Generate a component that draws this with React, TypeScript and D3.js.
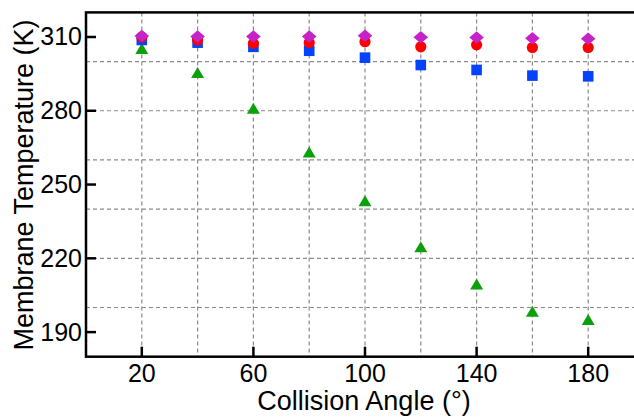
import React, { useEffect, useRef } from "react";
import * as d3 from "d3";

// collision angles (deg)
const angles = [20, 40, 60, 80, 100, 120, 140, 160, 180];
// membrane temperature (K) for each series
const greenTri = [305.1, 295.4, 280.8, 263.0, 243.2, 224.5, 209.4, 198.3, 194.9];
const blueSq = [308.8, 307.7, 306.0, 304.4, 301.6, 298.6, 296.6, 294.3, 294.0];
const redCirc = [310.0, 308.8, 307.4, 307.7, 308.1, 306.0, 306.8, 305.7, 305.7];
const pinkDia = [310.4, 310.2, 310.2, 310.2, 310.5, 309.9, 309.8, 309.5, 309.3];

const xTicks = [20, 60, 100, 140, 180];
const yTicks = [190, 220, 250, 280, 310];
const xGrid = [20, 40, 60, 80, 100, 120, 140, 160, 180];
const yGrid = [200, 220, 240, 260, 280, 300];

const W = 634, H = 418;

export default function App() {
  const ref = useRef<SVGSVGElement>(null);

  useEffect(() => {
    const svg = d3.select(ref.current);
    svg.selectAll("*").remove();

    const x = d3.scaleLinear().domain([0, 200]).range([86, 644]);
    const y = d3.scaleLinear().domain([180, 320]).range([356.7, 12.4]);
    const font = "'Liberation Sans', Arial, sans-serif";

    const g = svg.append("g");

    // dashed grid
    g.selectAll(".vgrid").data(xGrid).join("line")
      .attr("x1", d => x(d)).attr("x2", d => x(d))
      .attr("y1", y(320)).attr("y2", y(180))
      .attr("stroke", "#8a8a8a").attr("stroke-width", 1.2).attr("stroke-dasharray", "4,3");
    g.selectAll(".hgrid").data(yGrid).join("line")
      .attr("x1", x(0)).attr("x2", x(200))
      .attr("y1", d => y(d)).attr("y2", d => y(d))
      .attr("stroke", "#8a8a8a").attr("stroke-width", 1.2).attr("stroke-dasharray", "4,3");

    // frame
    g.append("rect")
      .attr("x", x(0)).attr("y", y(320))
      .attr("width", x(200) - x(0)).attr("height", y(180) - y(320))
      .attr("fill", "none").attr("stroke", "#000").attr("stroke-width", 2.5);

    // inward ticks
    g.selectAll(".xt").data(xTicks).join("line")
      .attr("x1", d => x(d)).attr("x2", d => x(d))
      .attr("y1", y(180)).attr("y2", y(180) - 10)
      .attr("stroke", "#000").attr("stroke-width", 2.5);
    g.selectAll(".yt").data(yTicks).join("line")
      .attr("x1", x(0)).attr("x2", x(0) + 10)
      .attr("y1", d => y(d)).attr("y2", d => y(d))
      .attr("stroke", "#000").attr("stroke-width", 2.5);

    // tick labels
    g.selectAll(".xl").data(xTicks).join("text")
      .attr("x", d => x(d)).attr("y", 382)
      .attr("text-anchor", "middle")
      .style("font-family", font).style("font-size", "25px")
      .text(d => d);
    g.selectAll(".yl").data(yTicks).join("text")
      .attr("x", 82).attr("y", d => y(d) + 8.5)
      .attr("text-anchor", "end")
      .style("font-family", font).style("font-size", "25px")
      .text(d => d);

    // axis titles
    g.append("text")
      .attr("x", 364).attr("y", 410)
      .attr("text-anchor", "middle")
      .style("font-family", font).style("font-size", "27px")
      .text("Collision Angle (°)");
    g.append("text")
      .attr("transform", "translate(33,185) rotate(-90)")
      .attr("text-anchor", "middle")
      .style("font-family", font).style("font-size", "27px")
      .text("Membrane Temperature (K)");

    const pts = (vals: number[]) => angles.map((a, i) => ({ a, v: vals[i] }));

    // green triangles
    g.selectAll(".tri").data(pts(greenTri)).join("path")
      .attr("d", "M0,-6L6.5,5L-6.5,5Z")
      .attr("transform", d => `translate(${x(d.a)},${y(d.v)})`)
      .attr("fill", "#0da00d");
    // blue squares
    g.selectAll(".sq").data(pts(blueSq)).join("rect")
      .attr("x", d => x(d.a) - 5.3).attr("y", d => y(d.v) - 5.3)
      .attr("width", 10.6).attr("height", 10.6)
      .attr("fill", "#0343fb");
    // red circles
    g.selectAll(".circ").data(pts(redCirc)).join("circle")
      .attr("cx", d => x(d.a)).attr("cy", d => y(d.v))
      .attr("r", 5.6)
      .attr("fill", "#ff0000");
    // magenta diamonds
    g.selectAll(".dia").data(pts(pinkDia)).join("path")
      .attr("d", "M0,-6.3L7.3,0L0,6.3L-7.3,0Z")
      .attr("transform", d => `translate(${x(d.a)},${y(d.v)})`)
      .attr("fill", "#c522c8");
  }, []);

  return (
    <svg ref={ref} width={W} height={H}
      style={{ position: "absolute", left: 0, top: 0, background: "#fff" }} />
  );
}
